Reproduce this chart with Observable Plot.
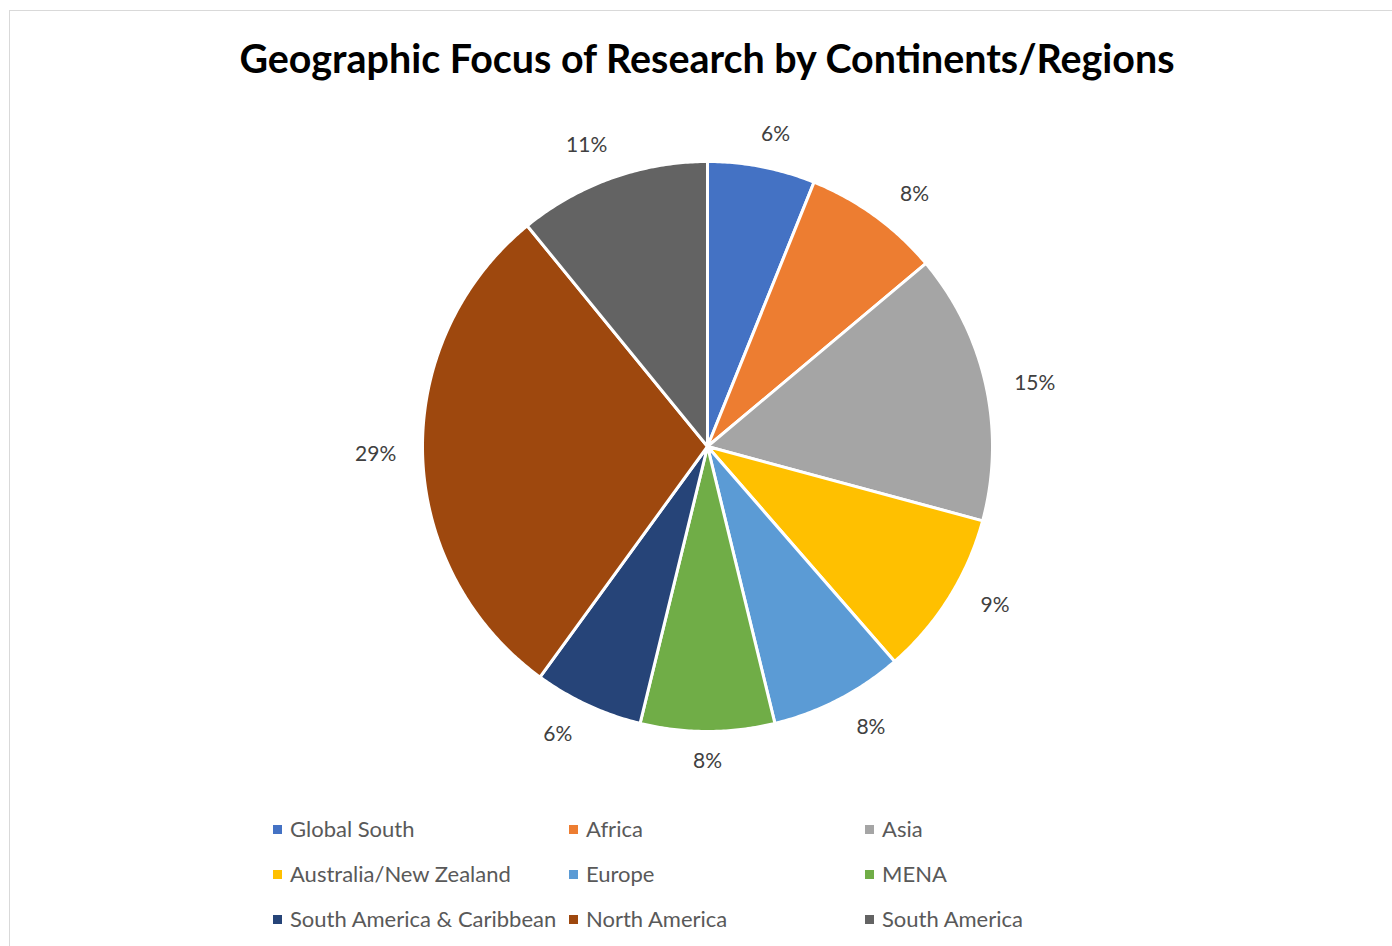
<!DOCTYPE html>
<html>
<head>
<meta charset="utf-8">
<script src="https://cdn.jsdelivr.net/npm/d3@7"></script>
<script src="https://cdn.jsdelivr.net/npm/@observablehq/plot@0.6"></script>
<style>
  html, body { margin: 0; padding: 0; background: #fff; overflow: hidden; }
  #frame { position: absolute; left: 9px; top: 10px; width: 1420px; height: 980px; border: 1px solid #d9d9d9; box-sizing: border-box; }
  #title { position: absolute; left: 0; width: 1414px; top: 30px; height: 56px; line-height: 56px; text-align: center;
           font-family: Lato, sans-serif; font-weight: bold; color: #000; white-space: nowrap; }
  #chart { position: absolute; left: 0; top: 100px; }
  .leg { position: absolute; font-family: Lato, sans-serif; font-size: 22px; color: #595959; height: 30px; line-height: 30px; white-space: nowrap; }
  .sw { display: inline-block; width: 9px; height: 9px; margin-right: 8px; vertical-align: middle; position: relative; top: -2px; }
</style>
</head>
<body>
<div id="frame"></div>
<div id="title">Geographic Focus of Research by Continents/Regions</div>
<div id="chart"></div>
<div id="legend"></div>
<script>
const categories = ["Global South", "Africa", "Asia", "Australia/New Zealand", "Europe", "MENA", "South America & Caribbean", "North America", "South America"];
const shares = [6.1, 7.8, 15.3, 9.4, 7.6, 7.6, 6.2, 29.1, 10.9];
const labels = ["6%", "8%", "15%", "9%", "8%", "8%", "6%", "29%", "11%"];
const colors = ["#4472C4", "#ED7D31", "#A5A5A5", "#FFC000", "#5B9BD5", "#70AD47", "#264478", "#9E480E", "#636363"];

// title sizing to match reference width
const titleEl = document.getElementById("title");
const ctx = document.createElement("canvas").getContext("2d");
ctx.font = "bold 40px Lato";
const tw = ctx.measureText(titleEl.textContent).width;
titleEl.style.fontSize = (40 * 937 / tw).toFixed(2) + "px";

const R = 285;
const W = 1392, H = 700;
const cx = 707, cy = 346; // pie centre within the SVG (pixels)

const arcs = d3.pie().sort(null).value(d => d)(shares);
const poly = [];
arcs.forEach((a, i) => {
  poly.push({cat: categories[i], x: 0, y: 0});
  const n = Math.max(2, Math.ceil((a.endAngle - a.startAngle) / (Math.PI / 360)));
  for (let k = 0; k <= n; k++) {
    const t = a.startAngle + (a.endAngle - a.startAngle) * k / n;
    poly.push({cat: categories[i], x: R * Math.sin(t), y: R * Math.cos(t)});
  }
});

const labelSize = 21;
ctx.font = labelSize + "px Lato";
const labelData = arcs.map((a, i) => {
  let m = (a.startAngle + a.endAngle) / 2;
  m += (3.5 * Math.PI / 180) * Math.sin(2 * m); // push labels slightly away from the vertical axis
  const w = ctx.measureText(labels[i]).width;
  const h = 24;
  const d = R + 18 + Math.abs(Math.sin(m)) * (w / 2 + 8) + Math.abs(Math.cos(m)) * h / 2;
  return {text: labels[i], x: d * Math.sin(m), y: d * Math.cos(m)};
});

const plot = Plot.plot({
  width: W, height: H,
  margin: 0,
  x: {domain: [-cx, W - cx], axis: null},
  y: {domain: [cy - H, cy], axis: null},
  color: {type: "ordinal", domain: categories, range: colors, legend: false},
  style: {background: "transparent", overflow: "visible"},
  marks: [
    Plot.line(poly, {x: "x", y: "y", z: "cat", fill: "cat", stroke: "white", strokeWidth: 3, strokeLinejoin: "round", curve: "linear-closed"}),
    Plot.text(labelData, {x: "x", y: "y", text: "text", fontSize: labelSize, fill: "#404040", fontFamily: "Lato, sans-serif"})
  ]
});
document.getElementById("chart").appendChild(plot);

// legend
const colX = [273, 569, 865];
const rowY = [829, 874, 919];
const leg = document.getElementById("legend");
categories.forEach((c, i) => {
  const div = document.createElement("div");
  div.className = "leg";
  div.style.left = colX[i % 3] + "px";
  div.style.top = (rowY[Math.floor(i / 3)] - 15) + "px";
  div.innerHTML = `<span class="sw" style="background:${colors[i]}"></span>`;
  div.appendChild(document.createTextNode(c));
  leg.appendChild(div);
});
</script>
</body>
</html>
